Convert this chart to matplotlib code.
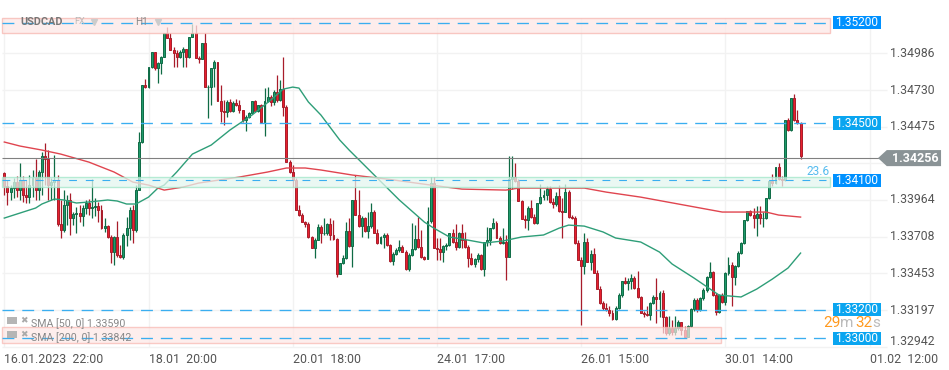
import matplotlib
matplotlib.use("Agg")
import matplotlib.pyplot as plt
from matplotlib.patches import Polygon, Rectangle

plt.rcParams["font.family"] = ["Roboto", "DejaVu Sans"]

first_open = 1.34152
highs = [1.34159,1.34103,1.34068,1.34117,1.34131,1.34221,1.34131,1.34103,1.34138,1.34173,1.34249,1.34173,1.34298,1.34361,1.34312,1.34117,1.34277,1.34138,1.33964,1.34033,1.33998,1.34012,1.33880,1.33915,1.33929,1.33929,1.33964,1.33971,1.34110,1.33977,1.33950,1.33929,1.33838,1.33789,1.33720,1.33713,1.33817,1.33650,1.33734,1.33845,1.33915,1.33929,1.34068,1.34438,1.34765,1.34807,1.34891,1.34995,1.34995,1.34925,1.34967,1.35128,1.35169,1.35128,1.35030,1.35009,1.35009,1.35030,1.35016,1.35100,1.35190,1.35183,1.34967,1.35058,1.35128,1.34765,1.34884,1.34939,1.34925,1.34765,1.34661,1.34661,1.34668,1.34654,1.34668,1.34661,1.34591,1.34556,1.34577,1.34654,1.34661,1.34626,1.34633,1.34744,1.34751,1.34695,1.34730,1.34835,1.34800,1.34960,1.34626,1.34242,1.34208,1.34117,1.33929,1.33873,1.33817,1.33810,1.33713,1.33699,1.33796,1.33789,1.33838,1.33803,1.33838,1.33824,1.33699,1.33524,1.33580,1.33810,1.33838,1.33964,1.34138,1.34033,1.33852,1.33845,1.33880,1.33943,1.33894,1.33761,1.33713,1.33734,1.33734,1.33657,1.33601,1.33629,1.33685,1.33650,1.33615,1.33594,1.33803,1.33789,1.33845,1.33755,1.33573,1.33915,1.34124,1.34124,1.33699,1.33699,1.33650,1.33664,1.33734,1.33761,1.33796,1.33741,1.33796,1.33741,1.33650,1.33594,1.33559,1.33594,1.33587,1.33671,1.33775,1.33768,1.33838,1.33817,1.33713,1.33768,1.33720,1.34270,1.34270,1.34221,1.34110,1.33964,1.33859,1.33922,1.33964,1.33866,1.33943,1.34075,1.34033,1.34061,1.34061,1.33977,1.34019,1.34068,1.33977,1.34075,1.34033,1.33859,1.33852,1.33685,1.33566,1.33734,1.33699,1.33615,1.33629,1.33476,1.33364,1.33260,1.33246,1.33225,1.33197,1.33225,1.33315,1.33399,1.33427,1.33420,1.33448,1.33434,1.33469,1.33294,1.33190,1.33225,1.33253,1.33301,1.33420,1.33329,1.33336,1.33155,1.33155,1.33127,1.33155,1.33127,1.33113,1.33085,1.33092,1.33211,1.33281,1.33281,1.33288,1.33350,1.33434,1.33531,1.33469,1.33315,1.33308,1.33315,1.33462,1.33566,1.33531,1.33511,1.33608,1.33671,1.33824,1.33887,1.33894,1.33908,1.33922,1.33922,1.33880,1.33977,1.34096,1.34145,1.34194,1.34221,1.34131,1.34521,1.34535,1.34675,1.34703,1.34591,1.34507]
closes = [1.34061,1.34019,1.34047,1.34089,1.34033,1.34103,1.33998,1.33984,1.34068,1.34117,1.34033,1.34159,1.34270,1.34249,1.34068,1.34089,1.34103,1.33796,1.33755,1.33929,1.33964,1.33838,1.33866,1.33873,1.33852,1.33908,1.33943,1.33908,1.33915,1.33922,1.33894,1.33768,1.33782,1.33706,1.33601,1.33706,1.33580,1.33566,1.33720,1.33768,1.33894,1.33755,1.34033,1.34368,1.34765,1.34751,1.34891,1.34995,1.34884,1.34919,1.34960,1.35128,1.35093,1.35009,1.34988,1.34960,1.34995,1.35016,1.34960,1.35100,1.35128,1.34953,1.34946,1.35058,1.34751,1.34751,1.34884,1.34925,1.34654,1.34584,1.34577,1.34647,1.34584,1.34640,1.34626,1.34591,1.34521,1.34542,1.34570,1.34654,1.34584,1.34626,1.34507,1.34654,1.34682,1.34647,1.34716,1.34661,1.34737,1.34612,1.34228,1.34159,1.34103,1.33894,1.33859,1.33810,1.33796,1.33706,1.33629,1.33685,1.33775,1.33734,1.33734,1.33796,1.33720,1.33692,1.33448,1.33524,1.33559,1.33748,1.33643,1.33964,1.33859,1.33782,1.33838,1.33748,1.33782,1.33880,1.33734,1.33664,1.33706,1.33720,1.33650,1.33538,1.33587,1.33615,1.33636,1.33601,1.33483,1.33580,1.33622,1.33692,1.33636,1.33566,1.33552,1.33817,1.34082,1.33629,1.33622,1.33601,1.33643,1.33650,1.33734,1.33671,1.33636,1.33734,1.33685,1.33636,1.33559,1.33518,1.33552,1.33580,1.33483,1.33671,1.33685,1.33768,1.33803,1.33699,1.33664,1.33671,1.33566,1.34110,1.34124,1.34096,1.33957,1.33831,1.33824,1.33908,1.33845,1.33803,1.33943,1.33984,1.33998,1.34040,1.33950,1.33936,1.33991,1.33887,1.33880,1.34019,1.33845,1.33838,1.33664,1.33545,1.33504,1.33671,1.33531,1.33587,1.33455,1.33343,1.33246,1.33211,1.33197,1.33176,1.33134,1.33211,1.33301,1.33399,1.33385,1.33399,1.33420,1.33350,1.33288,1.33176,1.33169,1.33162,1.33246,1.33288,1.33274,1.33315,1.33148,1.33037,1.33071,1.33044,1.33071,1.33113,1.33058,1.33009,1.33085,1.33204,1.33267,1.33197,1.33281,1.33336,1.33427,1.33462,1.33301,1.33183,1.33301,1.33253,1.33455,1.33511,1.33427,1.33504,1.33594,1.33664,1.33824,1.33887,1.33859,1.33838,1.33866,1.33838,1.33838,1.33977,1.34096,1.34082,1.34194,1.34110,1.34103,1.34521,1.34452,1.34675,1.34521,1.34500,1.34270]
lows = [1.33998,1.33929,1.33964,1.33977,1.33984,1.33964,1.33950,1.33943,1.33943,1.33984,1.33964,1.33964,1.33998,1.34068,1.33964,1.33964,1.33964,1.33782,1.33699,1.33741,1.33789,1.33720,1.33789,1.33734,1.33810,1.33782,1.33866,1.33859,1.33838,1.33852,1.33810,1.33761,1.33741,1.33699,1.33524,1.33511,1.33566,1.33559,1.33552,1.33643,1.33685,1.33664,1.33741,1.34033,1.34361,1.34744,1.34744,1.34884,1.34870,1.34779,1.34842,1.34960,1.35093,1.35009,1.34891,1.34891,1.34953,1.34891,1.34891,1.34953,1.35100,1.34953,1.34918,1.34946,1.34751,1.34535,1.34626,1.34751,1.34654,1.34507,1.34486,1.34542,1.34577,1.34577,1.34619,1.34570,1.34507,1.34445,1.34535,1.34570,1.34577,1.34577,1.34507,1.34410,1.34647,1.34619,1.34626,1.34647,1.34654,1.34549,1.34228,1.34152,1.34054,1.33894,1.33852,1.33810,1.33775,1.33699,1.33629,1.33559,1.33685,1.33664,1.33720,1.33720,1.33685,1.33685,1.33427,1.33448,1.33518,1.33552,1.33636,1.33497,1.33859,1.33775,1.33706,1.33741,1.33699,1.33768,1.33734,1.33657,1.33657,1.33629,1.33643,1.33531,1.33511,1.33580,1.33601,1.33601,1.33476,1.33469,1.33573,1.33615,1.33629,1.33559,1.33545,1.33552,1.33803,1.33629,1.33545,1.33545,1.33531,1.33615,1.33643,1.33664,1.33615,1.33629,1.33629,1.33629,1.33497,1.33511,1.33497,1.33531,1.33476,1.33434,1.33643,1.33650,1.33761,1.33699,1.33657,1.33657,1.33406,1.33566,1.34040,1.34089,1.33957,1.33831,1.33768,1.33755,1.33838,1.33796,1.33796,1.33936,1.33964,1.33964,1.33943,1.33908,1.33922,1.33880,1.33699,1.33880,1.33838,1.33831,1.33657,1.33545,1.33092,1.33448,1.33531,1.33476,1.33455,1.33343,1.33239,1.33197,1.33190,1.33155,1.33127,1.33127,1.33204,1.33288,1.33378,1.33336,1.33343,1.33343,1.33281,1.33176,1.33148,1.33155,1.33127,1.33239,1.33106,1.33148,1.33037,1.33023,1.33023,1.33023,1.33023,1.33058,1.33023,1.33002,1.33009,1.33078,1.33190,1.33183,1.33190,1.33267,1.33322,1.33420,1.33294,1.33162,1.33176,1.33246,1.33232,1.33441,1.33225,1.33371,1.33497,1.33587,1.33657,1.33817,1.33852,1.33768,1.33713,1.33796,1.33775,1.33831,1.33971,1.34061,1.34075,1.34103,1.34061,1.34096,1.34445,1.34445,1.34514,1.34493,1.34249]
opens = [first_open] + closes[:-1]

sma50_bars = [0,5,10,12,16,19,23,27,33,36,39,42,46,49,51,55,60,66,72,79,85,89,92,94,97,101,107,110,118,126,134,137,142,146,153,159,165,172,177,180,185,191,195,203,209,213,220,228,235,240,245,250,254]
sma50_vals = [1.33838,1.33873,1.33908,1.33936,1.33971,1.33964,1.33943,1.33950,1.33964,1.33957,1.33936,1.33936,1.33984,1.34047,1.34068,1.34159,1.34284,1.34347,1.34452,1.34556,1.34661,1.34737,1.34751,1.34744,1.34647,1.34556,1.34382,1.34312,1.34138,1.33964,1.33810,1.33768,1.33706,1.33692,1.33664,1.33678,1.33706,1.33720,1.33768,1.33789,1.33782,1.33741,1.33699,1.33671,1.33601,1.33518,1.33420,1.33301,1.33288,1.33343,1.33413,1.33490,1.33594]
sma200_bars = [0,5,12,18,27,35,41,46,51,57,62,75,84,90,96,101,111,122,136,146,160,164,185,192,203,215,229,243,247,254]
sma200_vals = [1.34368,1.34340,1.34312,1.34284,1.34228,1.34159,1.34089,1.34068,1.34033,1.34054,1.34082,1.34124,1.34159,1.34187,1.34187,1.34173,1.34138,1.34110,1.34068,1.34040,1.34033,1.34047,1.34047,1.34019,1.33984,1.33936,1.33880,1.33880,1.33859,1.33845]

grid_prices = [1.34986, 1.34730, 1.34475, 1.34219, 1.33964, 1.33708, 1.33453, 1.33197, 1.32942]
price_labels = ["1.34986", "1.34730", "1.34475", "", "1.33964", "1.33708", "1.33453", "1.33197", "1.32942"]
time_bars = [0, 46, 92, 138, 184, 230, 276]
time_labels = ["16.01.2023  22:00", "18.01  20:00", "20.01  18:00", "24.01  17:00",
               "26.01  15:00", "30.01  14:00", "01.02  12:00"]
levels = [1.35200, 1.34500, 1.34100, 1.33200, 1.33000]
level_colors = ["#0091ff", "#0aa5f0", "#0091ff", "#0aa5f0", "#0aa5f0"]
last_price = 1.34256

fig = plt.figure(figsize=(9.49, 3.7), dpi=100)
ax = fig.add_axes([0, 0, 1, 1])
ax.set_xlim(-1.372, 301.34)
ax.set_ylim(1.32779, 1.35358)
ax.axis("off")

assert len(highs) == len(closes) == len(lows) == 255

# grid
ax.hlines(grid_prices, -0.7, 281.6, color="#f2f2f2", lw=1, zorder=1)
ax.vlines(time_bars, 1.32942, 1.35231, color="#f2f2f2", lw=1, zorder=1)

# candles
for i in range(len(closes)):
    up = closes[i] >= opens[i]
    edge = "#0f6b45" if up else "#a81c2a"
    face = "#1f9a6b" if up else "#e8202f"
    ax.vlines(i, lows[i], highs[i], color=edge, lw=0.9, zorder=3)
    ax.bar(i, abs(closes[i] - opens[i]) + 0.00002, bottom=min(opens[i], closes[i]) - 0.00001,
           width=0.62, color=face, edgecolor=edge, linewidth=0.7, zorder=3)

ax.plot(sma50_bars, sma50_vals, color="#2e9e78", lw=1.0, zorder=4)
ax.plot(sma200_bars, sma200_vals, color="#e0454f", lw=1.0, zorder=4)

# zones
ax.add_patch(Rectangle((-0.7, 1.3513), 264, 0.00101, fc="#fde8e6", ec="#f7b6b0", lw=1, alpha=0.75, zorder=5))
ax.add_patch(Rectangle((-0.7, 1.34056), 264, 0.0007, fc="#e4f6ef", ec="#a0e6c8", lw=1, alpha=0.75, zorder=5))
ax.add_patch(Rectangle((-0.7, 1.32966), 229.2, 0.00114, fc="#fde8e6", ec="#f7b6b0", lw=1, alpha=0.7, zorder=5))

# level lines and price boxes
for lev, col in zip(levels, level_colors):
    if lev == 1.34100:
        ax.plot([-0.7, 262], [lev, lev], color="#3aaef0", lw=0.8, ls=(0, (7, 8)), zorder=6)
    else:
        ax.plot([-0.7, 262], [lev, lev], color="#3aaef0", lw=0.95, ls=(0, (9, 6)), zorder=6)
    ax.add_patch(Rectangle((264.3, lev - 0.00047), 15.2, 0.00094, fc=col, ec="none", zorder=7))
    ax.text(271.9, lev, f"{lev:.5f}", color="white", fontsize=8.6, ha="center", va="center", zorder=8)

# last price
ax.hlines(last_price, -0.7, 279, color="#808080", lw=0.8, zorder=6)
ax.add_patch(Polygon([(278.7, last_price), (281.5, last_price + 0.00056), (298.8, last_price + 0.00056),
                      (298.8, last_price - 0.00056), (281.5, last_price - 0.00056)],
                     closed=True, fc="#8a9396", ec="none", zorder=7))
ax.text(283.2, last_price, "1.34256", color="white", fontsize=9, fontweight="bold", va="center", zorder=8)

# axis labels
for p, lab in zip(grid_prices, price_labels):
    if lab == "1.32942":
        ax.text(282.5, p + 0.00038, lab, color="#555555", fontsize=8.8, va="center")
    elif lab:
        ax.text(282.5, p, lab, color="#555555", fontsize=8.8, va="center")
for b, lab in zip(time_bars, time_labels):
    ax.text(b, 1.32855, lab, color="#555555", fontsize=8.9, ha="left", va="center")

# header
ax.text(5, 1.35205, "USDCAD", color="#777777", fontsize=7.8, fontweight="bold", va="center", zorder=8)
ax.text(22.3, 1.35205, "FX", color="#bbbbbb", fontsize=6.6, va="center", zorder=8)
ax.text(41.6, 1.35205, "H1", color="#888888", fontsize=7.2, va="center", zorder=8)
ax.plot([28.6], [1.35205], marker="v", color="#cccccc", ms=4.5, zorder=8)
ax.plot([48.9], [1.35205], marker="v", color="#cccccc", ms=4.5, zorder=8)

# indicator legend
ax.add_patch(Rectangle((0.9, 1.33099), 3, 0.00049, fc="#b5b5b5", ec="none", zorder=8))
ax.add_patch(Rectangle((0.9, 1.33002), 3, 0.00049, fc="#b5b5b5", ec="none", zorder=8))
ax.text(5, 1.33124, "\u2716", color="#aaaaaa", fontsize=6.5, family="DejaVu Sans", va="center", zorder=8)
ax.text(5, 1.33027, "\u2716", color="#aaaaaa", fontsize=6.5, family="DejaVu Sans", va="center", zorder=8)
ax.text(8.6, 1.33105, "SMA [50, 0] 1.33590", color="#888888", fontsize=7.7, va="center", zorder=8)
ax.text(8.6, 1.33002, "SMA [200, 0] 1.33842", color="#888888", fontsize=7.7, va="center", zorder=8)

# countdown and fib label
ax.text(261.3, 1.33108, "29", color="#ff9a1f", fontsize=11, va="center", zorder=8)
ax.text(266.6, 1.33108, "m", color="#bbbbbb", fontsize=11, va="center", zorder=8)
ax.text(271.6, 1.33108, "32", color="#ff9a1f", fontsize=11, va="center", zorder=8)
ax.text(276.8, 1.33108, "s", color="#bbbbbb", fontsize=11, va="center", zorder=8)
ax.text(255.8, 1.34160, "23.6", color="#55bbee", fontsize=8.6, va="center", zorder=8)

fig.savefig("out.png", dpi=100)
